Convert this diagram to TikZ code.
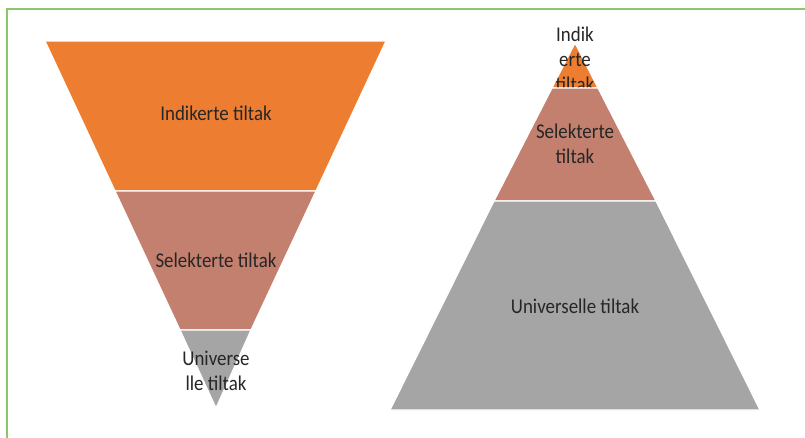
\documentclass[tikz,border=0pt]{standalone}
\usepackage{fontspec}
\setmainfont{Carlito}[FakeStretch=0.9]
\definecolor{borange}{HTML}{ED7D31}
\definecolor{bsalmon}{HTML}{C3806F}
\definecolor{bgray}{HTML}{A5A5A5}
\definecolor{bgreen}{HTML}{8CC56A}
\begin{document}
\begin{tikzpicture}[x=1pt,y=-1pt,
  band/.style={draw=white,line width=1.2pt},
  lbl/.style={font=\fontsize{21}{25}\selectfont,text=black!85,align=center,inner sep=0pt}]
\useasboundingbox (0,0) rectangle (805,437);
\draw[bgreen,line width=1.5pt] (7,440) -- (7,9) -- (810,9);
% left inverted pyramid
\fill[borange,band] (45,41) -- (386,41) -- (316,191) -- (115,191) -- cycle;
\fill[bsalmon,band] (115,191) -- (316,191) -- (251,330) -- (180,330) -- cycle;
\fill[bgray,band] (180,330) -- (251,330) -- (216,408) -- cycle;
\node[lbl] (li) at (216,113) {Indikerte tiltak};
\node[lbl] (ls) at (216,260) {Selekterte tiltak};
\node[lbl] (lu) at (216,371) {Universe\\lle tiltak};
% right pyramid
\fill[borange,band] (575,43) -- (598,88) -- (552,88) -- cycle;
\node[lbl,anchor=north] (ri) at (575,27) {Indik\\erte\\tiltak};
\fill[bsalmon,band] (552,88) -- (598,88) -- (656,201) -- (494,201) -- cycle;
\fill[bgray,band] (494,201) -- (656,201) -- (760,410) -- (390,410) -- cycle;
\node[lbl] (rs) at (575,144) {Selekterte\\tiltak};
\node[lbl] (ru) at (575,306) {Universelle tiltak};
\end{tikzpicture}
\end{document}
